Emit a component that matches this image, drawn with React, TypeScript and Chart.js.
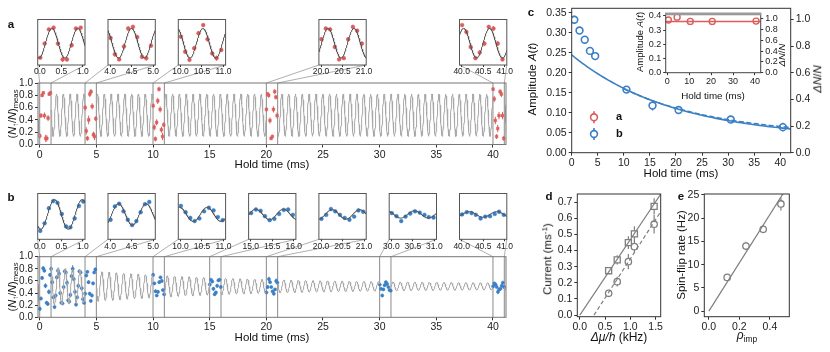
import React, { useEffect, useRef } from "react";
import { Chart, registerables } from "chart.js";

Chart.register(...registerables);
const FONT = '"Liberation Sans", Arial, Helvetica, sans-serif';
Chart.defaults.font.family = FONT;
Chart.defaults.color = "#222";

// ---------------- DATA ----------------
// panel a / b : measurement windows (ms) and which inset slot shows them
const windowStartsA = [0, 4, 10, 20, 40];
const insetSlotsA = [0, 1, 2, 4, 6];
const windowStartsB = [0, 4, 10, 15, 20, 30, 40];
const insetSlotsB = [0, 1, 2, 3, 4, 5, 6];

// panel a points (time offset inside window, value)
const offsetsA = [0.01, 0.11, 0.21, 0.32, 0.42, 0.53, 0.63, 0.74, 0.84, 0.95];
const valuesA0 = [0.14, 0.47, 0.8, 0.84, 0.47, 0.1, 0.1, 0.43, 0.82, 0.84];
const valuesA4 = [0.6, 0.22, 0.1, 0.4, 0.82, 0.86, 0.62, 0.16, 0.13, 0.42];
const valuesA10 = [0.63, 0.28, 0.09, 0.36, 0.71, 0.9, 0.57, 0.24, 0.13, 0.32];
const valuesA20 = [0.57, 0.82, 0.8, 0.39, 0.1, 0.13, 0.57, 0.86, 0.77, 0.47];
const valuesA40 = [0.9, 0.74, 0.39, 0.13, 0.26, 0.47, 0.86, 0.82, 0.47, 0.1];
const errorsA0 = [0.04, 0.04, 0.03, 0.03, 0.05, 0.06, 0.05, 0.05, 0.03, 0.03];
const errorsA4 = [0.05, 0.06, 0.04, 0.07, 0.05, 0.04, 0.05, 0.05, 0.06, 0.04];
const errorsA10 = [0.04, 0.05, 0.04, 0.05, 0.05, 0.04, 0.05, 0.05, 0.06, 0.04];
const errorsA20 = [0.04, 0.03, 0.04, 0.05, 0.03, 0.03, 0.05, 0.04, 0.04, 0.05];
const errorsA40 = [0.03, 0.05, 0.06, 0.04, 0.06, 0.06, 0.04, 0.05, 0.06, 0.04];

// panel b points: continuous 0-5 ms, then windows
const timesBEarly = [0.01, 0.11, 0.21, 0.31, 0.41, 0.51, 0.61, 0.71, 0.81, 0.91, 1.01, 1.11, 1.21, 1.31, 1.41, 1.51, 1.61, 1.71, 1.81, 1.91, 2.01, 2.11, 2.21, 2.31, 2.41, 2.51, 2.61, 2.71, 2.81, 2.91, 3.01, 3.11, 3.21, 3.31, 3.41, 3.51, 3.61, 3.71, 3.81, 3.91, 4.01, 4.11, 4.21, 4.31, 4.41, 4.51, 4.61, 4.71, 4.81, 4.91];
const valuesBEarly = [0.14, 0.31, 0.65, 0.81, 0.77, 0.52, 0.24, 0.22, 0.42, 0.7, 0.8, 0.58, 0.33, 0.17, 0.36, 0.66, 0.77, 0.72, 0.4, 0.24, 0.23, 0.5, 0.76, 0.74, 0.57, 0.28, 0.26, 0.37, 0.68, 0.8, 0.63, 0.42, 0.21, 0.33, 0.52, 0.76, 0.74, 0.48, 0.3, 0.24, 0.39, 0.69, 0.75, 0.58, 0.39, 0.27, 0.36, 0.56, 0.74, 0.79];
const errorsBEarly = [0.04, 0.03, 0.03, 0.03, 0.03, 0.04, 0.03, 0.03, 0.04, 0.03, 0.03, 0.04, 0.03, 0.03, 0.04, 0.03, 0.03, 0.05, 0.03, 0.03, 0.03, 0.04, 0.03, 0.03, 0.05, 0.03, 0.03, 0.04, 0.03, 0.06, 0.03, 0.04, 0.03, 0.03, 0.04, 0.03, 0.03, 0.04, 0.03, 0.03, 0.03, 0.03, 0.02, 0.03, 0.03, 0.02, 0.03, 0.03, 0.02, 0.03];
const offsetsB = [0.01, 0.12, 0.23, 0.33, 0.44, 0.55, 0.66, 0.77, 0.87, 0.98];
const valuesB10 = [0.7, 0.56, 0.43, 0.36, 0.42, 0.58, 0.66, 0.6, 0.45, 0.38];
const valuesB15 = [0.54, 0.62, 0.59, 0.47, 0.38, 0.41, 0.52, 0.61, 0.62, 0.5];
const valuesB20 = [0.41, 0.5, 0.63, 0.58, 0.5, 0.43, 0.39, 0.46, 0.6, 0.57];
const valuesB30 = [0.54, 0.47, 0.36, 0.46, 0.53, 0.58, 0.55, 0.5, 0.45, 0.44];
const valuesB40 = [0.51, 0.56, 0.54, 0.5, 0.42, 0.46, 0.47, 0.52, 0.57, 0.5];
const errorsB10 = [0.03, 0.02, 0.03, 0.02, 0.03, 0.03, 0.02, 0.03, 0.02, 0.03];
const errorsB15 = [0.03, 0.02, 0.02, 0.03, 0.03, 0.02, 0.03, 0.02, 0.02, 0.03];
const errorsB20 = [0.02, 0.03, 0.04, 0.02, 0.02, 0.02, 0.03, 0.02, 0.04, 0.03];
const errorsB30 = [0.02, 0.02, 0.03, 0.02, 0.02, 0.02, 0.02, 0.02, 0.02, 0.02];
const errorsB40 = [0.02, 0.02, 0.02, 0.02, 0.04, 0.02, 0.02, 0.02, 0.03, 0.02];

// fitted oscillation parameters
const fitA = { offset: 0.477, amp: 0.345, period: 0.6025, peakTime: 0.28 };
const fitB = { offset: 0.51, ampDecay: 0.3, ampFloor: 0.04, tau: 14, period: 0.6425, peakTime: 0.34 };

// panel c
const cTimesB = [0.5, 1.5, 2.5, 3.5, 4.5, 10.5, 15.5, 20.5, 30.5, 40.5];
const cAmpB = [0.333, 0.306, 0.283, 0.255, 0.242, 0.158, 0.118, 0.107, 0.083, 0.064];
const cErrB = [0.01, 0.008, 0.008, 0.01, 0.008, 0.006, 0.012, 0.01, 0.007, 0.011];
const cTimesA = [0.5, 4.5, 10.5, 20.5, 40.5];
const cAmpA = [0.372, 0.392, 0.362, 0.362, 0.364];
const cErrA = [0.008, 0.01, 0.006, 0.006, 0.006];
const cFitSolid = { a: 0.21, tau: 19.6, c: 0.035 };
const cFitDashed = { a: 0.2, tau: 19.5, c: 0.04, from: 10 };
const cFitInsetA = 0.362;

// panel d
const dX = [0.57, 0.74, 0.96, 1.08, 1.47];
const dSquares = [0.275, 0.342, 0.449, 0.503, 0.673];
const dSquaresErr = [0.02, 0.028, 0.04, 0.047, 0.05];
const dCircles = [0.135, 0.207, 0.331, 0.424, 0.563];
const dCirclesErr = [0.02, 0.03, 0.047, 0.04, 0.057];
const dFitSquares = { slope: 0.468, x0: 0 };
const dFitCircles = { slope: 0.485, x0: 0.28 };

// panel e
const eX = [0.12, 0.243, 0.356, 0.472];
const eY = [7.26, 14.0, 17.6, 23.06];
const eErr = [0.6, 0.9, 0.8, 1.4];
const eFit = { slope: 52 };

// tick values
const mainXTicks = [0, 5, 10, 15, 20, 25, 30, 35, 40];
const mainYTicks = [0, 0.2, 0.4, 0.6, 0.8, 1.0];
const cXTicks = [0, 5, 10, 15, 20, 25, 30, 35, 40];
const cYTicks = [0, 0.05, 0.1, 0.15, 0.2, 0.25, 0.3, 0.35];
const cY2Ticks = [0, 0.2, 0.4, 0.6, 0.8, 1.0];
const ciXTicks = [0, 10, 20, 30, 40];
const ciYTicks = [0, 0.1, 0.2, 0.3, 0.4];
const dXTicks = [0, 0.5, 1.0, 1.5];
const dYTicks = [0, 0.1, 0.2, 0.3, 0.4, 0.5, 0.6, 0.7];
const eXTicks = [0, 0.2, 0.4];
const eYTicks = [0, 5, 10, 15, 20, 25];

// ---------------- LAYOUT ----------------
type Rect = { l: number; t: number; r: number; b: number };
const MAIN_A_CANVAS: Rect = { l: 0, t: 60, r: 520, b: 180 };
const MAIN_A_AREA: Rect = { l: 38, t: 83, r: 506, b: 144.5 };
const MAIN_B_CANVAS: Rect = { l: 0, t: 235, r: 520, b: 345 };
const MAIN_B_AREA: Rect = { l: 38, t: 256.7, r: 506, b: 317.3 };
const INSET_L0 = 37.7, INSET_STEP = 70.3, INSET_W = 47.3;
const INSET_A_TB = [19.3, 65];
const INSET_B_TB = [193.3, 239.3];
const C_CANVAS: Rect = { l: 525, t: 0, r: 830, b: 182 };
const C_AREA: Rect = { l: 571.7, t: 8.3, r: 790.7, b: 152.7 };
const CI_CANVAS: Rect = { l: 633, t: 5, r: 822, b: 100 };
const CI_AREA: Rect = { l: 665.7, t: 13.3, r: 760.7, b: 72.7 };
const D_CANVAS: Rect = { l: 540, t: 185, r: 670, b: 352 };
const D_AREA: Rect = { l: 577.3, t: 194, r: 660.7, b: 316.7 };
const E_CANVAS: Rect = { l: 675, t: 185, r: 830, b: 352 };
const E_AREA: Rect = { l: 704.3, t: 194, r: 789.3, b: 316.7 };

const RED = "#dc5d5a";
const BLUE = "#3b7fc4";
const GREY = "#7f7f7f";

// ---------------- HELPERS ----------------
function oscA(t: number) {
  return fitA.offset + fitA.amp * Math.cos((2 * Math.PI * (t - fitA.peakTime)) / fitA.period);
}
function ampB(t: number) {
  return fitB.ampDecay * Math.exp(-t / fitB.tau) + fitB.ampFloor;
}
function oscB(t: number, amp: number) {
  return fitB.offset + amp * Math.cos((2 * Math.PI * (t - fitB.peakTime)) / fitB.period);
}

const errorBars = {
  id: "errorBars",
  beforeDatasetsDraw(chart: any) {
    const ctx = chart.ctx;
    const a = chart.chartArea;
    chart.data.datasets.forEach((ds: any, i: number) => {
      if (!ds.errors) return;
      const meta = chart.getDatasetMeta(i);
      const ys = chart.scales[meta.yAxisID];
      ctx.save();
      ctx.beginPath();
      ctx.rect(a.left, a.top, a.right - a.left, a.bottom - a.top);
      ctx.clip();
      ctx.strokeStyle = ds.errorColor || ds.borderColor;
      ctx.lineWidth = ds.errorWidth || 1;
      meta.data.forEach((el: any, j: number) => {
        const d = ds.data[j];
        const e = ds.errors[j];
        if (!d || !e) return;
        ctx.beginPath();
        ctx.moveTo(el.x, ys.getPixelForValue(d.y - e));
        ctx.lineTo(el.x, ys.getPixelForValue(d.y + e));
        ctx.stroke();
      });
      ctx.restore();
    });
  },
};
Chart.register(errorBars);

const framePlugin = (color: string, width: number, band?: { color: string; h: number }) => ({
  id: "frame",
  afterDraw(chart: any) {
    const a = chart.chartArea;
    const ctx = chart.ctx;
    ctx.save();
    ctx.strokeStyle = color;
    ctx.lineWidth = width;
    ctx.strokeRect(a.left, a.top, a.right - a.left, a.bottom - a.top);
    if (band) {
      ctx.fillStyle = band.color;
      ctx.fillRect(a.left - width / 2, a.top - width / 2, a.right - a.left + width, band.h);
    }
    ctx.restore();
  },
});

const zoomLinks = (starts: number[], slots: number[], canvas: Rect, insetBottom: number) => ({
  id: "zoomLinks",
  beforeDatasetsDraw(chart: any) {
    const ctx = chart.ctx;
    const a = chart.chartArea;
    const xs = chart.scales.x;
    ctx.save();
    starts.forEach((t0, i) => {
      const L = INSET_L0 + slots[i] * INSET_STEP - canvas.l;
      const R = L + INSET_W;
      const B = insetBottom - canvas.t;
      const x0 = xs.getPixelForValue(t0);
      const x1 = xs.getPixelForValue(t0 + 1);
      ctx.strokeStyle = "#8a8a8a";
      ctx.lineWidth = 1;
      [x0, x1].forEach((x) => {
        ctx.beginPath();
        ctx.moveTo(x, a.top);
        ctx.lineTo(x, a.bottom);
        ctx.stroke();
      });
      ctx.strokeStyle = "#9a9a9a";
      ctx.lineWidth = 0.8;
      ctx.beginPath();
      ctx.moveTo(L, B);
      ctx.lineTo(x0, a.top);
      ctx.moveTo(R, B);
      ctx.lineTo(x1, a.top);
      ctx.stroke();
    });
    ctx.restore();
  },
});

function xAxis(o: any) {
  return {
    type: "linear",
    position: "bottom",
    bounds: "data",
    min: o.min,
    max: o.max,
    afterBuildTicks: (s: any) => {
      s.ticks = o.ticks.map((v: number) => ({ value: v }));
    },
    afterFit: (s: any) => {
      s.height = o.height;
    },
    ticks: {
      font: { size: o.size },
      color: "#222",
      padding: o.pad ?? 1,
      maxRotation: 0,
      minRotation: 0,
      autoSkip: false,
      callback: (v: number) => o.fmt(v),
    },
    grid: { drawOnChartArea: false, drawTicks: true, tickLength: o.tickLen ?? 3, color: "#333", lineWidth: 1 },
    border: { display: false },
  };
}
function yAxis(o: any) {
  return {
    type: "linear",
    position: o.position || "left",
    bounds: "data",
    min: o.min,
    max: o.max,
    afterBuildTicks: (s: any) => {
      s.ticks = o.ticks.map((v: number) => ({ value: v }));
    },
    afterFit: (s: any) => {
      s.width = o.width;
    },
    ticks: {
      font: { size: o.size },
      color: "#222",
      padding: o.pad ?? 2,
      autoSkip: false,
      callback: (v: number) => o.fmt(v),
    },
    grid: { drawOnChartArea: false, drawTicks: true, tickLength: o.tickLen ?? 3, color: "#333", lineWidth: 1 },
    border: { display: false },
  };
}
function baseOptions(canvas: Rect, area: Rect, scales: any, leftPad: number, rightPad: number) {
  return {
    responsive: false,
    animation: false,
    devicePixelRatio: 1,
    events: [],
    layout: { padding: { left: leftPad, top: area.t - canvas.t, right: rightPad, bottom: 0 } },
    plugins: { legend: { display: false }, tooltip: { enabled: false } },
    scales,
  };
}
const f1 = (v: number) => v.toFixed(1);
const f2 = (v: number) => v.toFixed(2);
const f0 = (v: number) => String(Math.round(v));

function windowPointsA(t0: number) {
  const map: any = { 0: [valuesA0, errorsA0], 4: [valuesA4, errorsA4], 10: [valuesA10, errorsA10], 20: [valuesA20, errorsA20], 40: [valuesA40, errorsA40] };
  const [vals, errs] = map[t0];
  return { data: offsetsA.map((o, j) => ({ x: t0 + o, y: vals[j] })), errors: errs };
}
function windowPointsB(t0: number) {
  if (t0 < 5) {
    const idx = timesBEarly.map((t, j) => j).filter((j) => timesBEarly[j] >= t0 - 0.05 && timesBEarly[j] <= t0 + 1.05);
    return { data: idx.map((j) => ({ x: timesBEarly[j], y: valuesBEarly[j] })), errors: idx.map((j) => errorsBEarly[j]) };
  }
  const map: any = { 10: [valuesB10, errorsB10], 15: [valuesB15, errorsB15], 20: [valuesB20, errorsB20], 30: [valuesB30, errorsB30], 40: [valuesB40, errorsB40] };
  const [vals, errs] = map[t0];
  return { data: offsetsB.map((o, j) => ({ x: t0 + o, y: vals[j] })), errors: errs };
}

function pointDataset(pts: any, color: string, style: string, radius: number) {
  return {
    data: pts.data,
    errors: pts.errors,
    errorColor: color,
    errorWidth: 1,
    showLine: false,
    pointStyle: style,
    pointRadius: radius,
    pointBackgroundColor: color,
    pointBorderColor: color,
    pointBorderWidth: 0.5,
    borderColor: color,
  };
}

function mainConfig(panel: string) {
  const isA = panel === "a";
  const canvas = isA ? MAIN_A_CANVAS : MAIN_B_CANVAS;
  const area = isA ? MAIN_A_AREA : MAIN_B_AREA;
  const starts = isA ? windowStartsA : windowStartsB;
  const slots = isA ? insetSlotsA : insetSlotsB;
  const xmin = -0.15, xmax = 41.15;
  const curve: any[] = [];
  const n = Math.round((xmax - xmin) / 0.02);
  for (let i = 0; i <= n; i++) {
    const t = xmin + i * 0.02;
    const inWin = starts.some((t0) => t > t0 && t < t0 + 1);
    curve.push({ x: t, y: inWin ? null : isA ? oscA(t) : oscB(t, ampB(t)) });
  }
  const datasets: any[] = [
    { data: curve, showLine: true, borderColor: "#a8a8a8", borderWidth: 1, pointRadius: 0, spanGaps: false },
  ];
  if (isA) {
    starts.forEach((t0) => datasets.push(pointDataset(windowPointsA(t0), RED, "rect", 1.9)));
  } else {
    datasets.push(pointDataset({ data: timesBEarly.map((t, j) => ({ x: t, y: valuesBEarly[j] })), errors: errorsBEarly }, BLUE, "circle", 1.6));
    starts.filter((t0) => t0 >= 10).forEach((t0) => datasets.push(pointDataset(windowPointsB(t0), BLUE, "circle", 1.6)));
  }
  return {
    type: "scatter",
    data: { datasets },
    options: baseOptions(canvas, area, {
      x: xAxis({ min: xmin, max: xmax, ticks: mainXTicks, fmt: f0, size: 10.5, height: canvas.b - area.b, tickLen: 3, pad: 1 }),
      y: yAxis({ min: 0, max: 1, ticks: mainYTicks, fmt: f1, size: 10, width: area.l - canvas.l, tickLen: 3, pad: 2 }),
    }, 0, canvas.r - area.r),
    plugins: [zoomLinks(starts, slots, canvas, isA ? INSET_A_TB[1] : INSET_B_TB[1]), framePlugin("#777", 1)],
  };
}

function insetRects(panel: string, slot: number) {
  const tb = panel === "a" ? INSET_A_TB : INSET_B_TB;
  const l = INSET_L0 + slot * INSET_STEP;
  const area: Rect = { l, r: l + INSET_W, t: tb[0], b: tb[1] };
  const canvas: Rect = { l: Math.floor(area.l - 10), r: Math.ceil(area.r + 10), t: Math.floor(area.t - 4), b: Math.ceil(area.b + 15) };
  return { area, canvas };
}

function insetConfig(panel: string, t0: number, slot: number) {
  const isA = panel === "a";
  const { area, canvas } = insetRects(panel, slot);
  const xmin = t0 - 0.05, xmax = t0 + 1.05;
  const amp = isA ? fitA.amp : cAmpB[cTimesB.indexOf(t0 + 0.5)];
  const curve: any[] = [];
  for (let i = 0; i <= 220; i++) {
    const t = xmin + (i * (xmax - xmin)) / 220;
    curve.push({ x: t, y: isA ? oscA(t) : oscB(t, amp) });
  }
  const pts = isA ? windowPointsA(t0) : windowPointsB(t0);
  const datasets: any[] = [
    { data: curve, showLine: true, borderColor: "#555", borderWidth: 1, pointRadius: 0 },
    pointDataset(pts, isA ? RED : BLUE, "circle", 1.9),
  ];
  return {
    type: "scatter",
    data: { datasets },
    options: baseOptions(canvas, area, {
      x: xAxis({ min: xmin, max: xmax, ticks: [t0, t0 + 0.5, t0 + 1], fmt: f1, size: 8.5, height: canvas.b - area.b, tickLen: 2, pad: 0 }),
      y: { type: "linear", display: false, min: isA ? -0.03 : -0.05, max: isA ? 1.03 : 0.98 },
    }, area.l - canvas.l, canvas.r - area.r),
    plugins: [framePlugin("#555", 1)],
  };
}

const cLegend = {
  id: "cLegend",
  afterDraw(chart: any) {
    const ctx = chart.ctx;
    const items = [
      { color: RED, label: "a", y: 117.3 },
      { color: BLUE, label: "b", y: 134 },
    ];
    ctx.save();
    items.forEach((it) => {
      const x = 594 - C_CANVAS.l;
      const y = it.y - C_CANVAS.t;
      ctx.strokeStyle = it.color;
      ctx.lineWidth = 1.6;
      ctx.beginPath();
      ctx.moveTo(x, y - 6);
      ctx.lineTo(x, y + 6);
      ctx.stroke();
      ctx.beginPath();
      ctx.arc(x, y, 3.4, 0, Math.PI * 2);
      ctx.fillStyle = "#fff";
      ctx.fill();
      ctx.stroke();
      ctx.fillStyle = "#111";
      ctx.font = `bold 11px ${FONT}`;
      ctx.textBaseline = "middle";
      ctx.textAlign = "left";
      ctx.fillText(it.label, 616 - C_CANVAS.l, y);
    });
    ctx.restore();
  },
};

function cConfig() {
  const solid: any[] = [];
  const dashed: any[] = [];
  for (let i = 0; i <= 84; i++) {
    const t = i * 0.5;
    solid.push({ x: t, y: cFitSolid.a * Math.exp(-t / cFitSolid.tau) + cFitSolid.c });
    if (t >= cFitDashed.from) dashed.push({ x: t, y: cFitDashed.a * Math.exp(-t / cFitDashed.tau) + cFitDashed.c });
  }
  const datasets: any[] = [
    { data: solid, showLine: true, borderColor: BLUE, borderWidth: 1.6, pointRadius: 0 },
    { data: dashed, showLine: true, borderColor: BLUE, borderWidth: 1.4, borderDash: [5, 2.5], pointRadius: 0 },
    {
      data: cTimesB.map((t, j) => ({ x: t, y: cAmpB[j] })),
      errors: cErrB,
      errorColor: BLUE,
      errorWidth: 1.5,
      showLine: false,
      pointStyle: "circle",
      pointRadius: 3.4,
      pointBorderWidth: 1.6,
      pointBorderColor: BLUE,
      pointBackgroundColor: "#fff",
      borderColor: BLUE,
    },
  ];
  return {
    type: "scatter",
    data: { datasets },
    options: baseOptions(C_CANVAS, C_AREA, {
      x: xAxis({ min: 0, max: 42, ticks: cXTicks, fmt: f0, size: 10.5, height: C_CANVAS.b - C_AREA.b, tickLen: 3, pad: 1 }),
      y: yAxis({ min: 0, max: 0.3617, ticks: cYTicks, fmt: f2, size: 10.5, width: C_AREA.l - C_CANVAS.l }),
      y2: yAxis({ min: 0, max: 1.083, ticks: cY2Ticks, fmt: f1, size: 10.5, width: C_CANVAS.r - C_AREA.r, position: "right" }),
    }, 0, 0),
    plugins: [framePlugin("#333", 1), cLegend],
  };
}

function ciConfig() {
  const datasets: any[] = [
    { data: [{ x: -0.7, y: cFitInsetA }, { x: 42.6, y: cFitInsetA }], showLine: true, borderColor: RED, borderWidth: 1.5, pointRadius: 0 },
    {
      data: cTimesA.map((t, j) => ({ x: t, y: cAmpA[j] })),
      errors: cErrA,
      errorColor: RED,
      errorWidth: 1.3,
      showLine: false,
      pointStyle: "circle",
      pointRadius: 3,
      pointBorderWidth: 1.4,
      pointBorderColor: RED,
      pointBackgroundColor: "#fff",
      borderColor: RED,
    },
  ];
  return {
    type: "scatter",
    data: { datasets },
    options: baseOptions(CI_CANVAS, CI_AREA, {
      x: xAxis({ min: -0.7, max: 42.6, ticks: ciXTicks, fmt: f0, size: 9, height: CI_CANVAS.b - CI_AREA.b, tickLen: 2.5, pad: 1 }),
      y: yAxis({ min: 0, max: 0.419, ticks: ciYTicks, fmt: f1, size: 9, width: CI_AREA.l - CI_CANVAS.l, tickLen: 2.5 }),
      y2: yAxis({ min: 0, max: 1.106, ticks: cY2Ticks, fmt: f1, size: 9, width: CI_CANVAS.r - CI_AREA.r, position: "right", tickLen: 2.5 }),
    }, 0, 0),
    plugins: [framePlugin("#444", 1, { color: "#999", h: 2.5 })],
  };
}

function openMarkers(xs: number[], ys: number[], errs: number[], style: string, radius: number) {
  return {
    data: xs.map((x, j) => ({ x, y: ys[j] })),
    errors: errs,
    errorColor: GREY,
    errorWidth: 1.2,
    showLine: false,
    pointStyle: style,
    pointRadius: radius,
    pointBorderWidth: 1.3,
    pointBorderColor: GREY,
    pointBackgroundColor: "#fff",
    borderColor: GREY,
  };
}

function dConfig() {
  const xEnd = 1.6;
  const datasets: any[] = [
    { data: [{ x: dFitSquares.x0, y: 0 }, { x: xEnd, y: dFitSquares.slope * (xEnd - dFitSquares.x0) }], showLine: true, borderColor: GREY, borderWidth: 1.2, pointRadius: 0 },
    { data: [{ x: dFitCircles.x0, y: 0 }, { x: xEnd, y: dFitCircles.slope * (xEnd - dFitCircles.x0) }], showLine: true, borderColor: GREY, borderWidth: 1.2, borderDash: [4, 2.5], pointRadius: 0 },
    openMarkers(dX, dSquares, dSquaresErr, "rect", 4.3),
    openMarkers(dX, dCircles, dCirclesErr, "circle", 3.2),
  ];
  return {
    type: "scatter",
    data: { datasets },
    options: baseOptions(D_CANVAS, D_AREA, {
      x: xAxis({ min: -0.05, max: 1.6, ticks: dXTicks, fmt: f1, size: 10.5, height: D_CANVAS.b - D_AREA.b, tickLen: 3, pad: 1 }),
      y: yAxis({ min: -0.01, max: 0.75, ticks: dYTicks, fmt: f1, size: 10.5, width: D_AREA.l - D_CANVAS.l }),
    }, 0, D_CANVAS.r - D_AREA.r),
    plugins: [framePlugin("#333", 1)],
  };
}

function eConfig() {
  const xEnd = 0.53;
  const datasets: any[] = [
    { data: [{ x: 0, y: 0 }, { x: xEnd, y: eFit.slope * xEnd }], showLine: true, borderColor: GREY, borderWidth: 1.2, pointRadius: 0 },
    openMarkers(eX, eY, eErr, "circle", 3.2),
  ];
  return {
    type: "scatter",
    data: { datasets },
    options: baseOptions(E_CANVAS, E_AREA, {
      x: xAxis({ min: -0.03, max: 0.527, ticks: eXTicks, fmt: f1, size: 10.5, height: E_CANVAS.b - E_AREA.b, tickLen: 3, pad: 1 }),
      y: yAxis({ min: -1.2, max: 25.2, ticks: eYTicks, fmt: f0, size: 10.5, width: E_AREA.l - E_CANVAS.l }),
    }, 0, E_CANVAS.r - E_AREA.r),
    plugins: [framePlugin("#333", 1)],
  };
}

// ---------------- COMPONENTS ----------------
function Plot({ rect, make }: { rect: Rect; make: () => any }) {
  const ref = useRef<HTMLCanvasElement | null>(null);
  useEffect(() => {
    if (!ref.current) return;
    const chart = new Chart(ref.current, make());
    return () => chart.destroy();
  }, []);
  const w = rect.r - rect.l;
  const h = rect.b - rect.t;
  return <canvas ref={ref} width={w} height={h} style={{ position: "absolute", left: rect.l, top: rect.t, width: w, height: h }} />;
}

function Txt({ x, y, rot = 0, size = 11.5, bold = false, children }: any) {
  return (
    <div
      style={{
        position: "absolute",
        left: x,
        top: y,
        transform: `translate(-50%, -50%) rotate(${rot}deg)`,
        fontSize: size,
        fontWeight: bold ? "bold" : "normal",
        whiteSpace: "nowrap",
        lineHeight: 1,
        fontFamily: FONT,
        color: "#111",
      }}
    >
      {children}
    </div>
  );
}

const subStyle = { fontSize: "0.7em", verticalAlign: "-0.3em", lineHeight: 0 } as any;
const supStyle = { fontSize: "0.7em", verticalAlign: "0.45em", lineHeight: 0 } as any;

function NTitle() {
  return (
    <span>
      (<i>N</i>
      <span style={subStyle}>↑</span>/<i>N</i>)<span style={subStyle}>meas</span>
    </span>
  );
}

export default function App() {
  return (
    <div style={{ position: "absolute", left: 0, top: 0, width: 830, height: 352, background: "#fff", overflow: "hidden" }}>
      <Plot rect={MAIN_A_CANVAS} make={() => mainConfig("a")} />
      <Plot rect={MAIN_B_CANVAS} make={() => mainConfig("b")} />
      {windowStartsA.map((t0, i) => (
        <Plot key={"ia" + t0} rect={insetRects("a", insetSlotsA[i]).canvas} make={() => insetConfig("a", t0, insetSlotsA[i])} />
      ))}
      {windowStartsB.map((t0, i) => (
        <Plot key={"ib" + t0} rect={insetRects("b", insetSlotsB[i]).canvas} make={() => insetConfig("b", t0, insetSlotsB[i])} />
      ))}
      <Plot rect={C_CANVAS} make={cConfig} />
      <Plot rect={CI_CANVAS} make={ciConfig} />
      <Plot rect={D_CANVAS} make={dConfig} />
      <Plot rect={E_CANVAS} make={eConfig} />

      <Txt x={11} y={25} bold size={11.5}>a</Txt>
      <Txt x={11} y={198} bold size={11.5}>b</Txt>
      <Txt x={531} y={13} bold size={11.5}>c</Txt>
      <Txt x={549} y={197} bold size={11.5}>d</Txt>
      <Txt x={681} y={197} bold size={11.5}>e</Txt>

      <Txt x={12} y={114} rot={-90} size={11}><NTitle /></Txt>
      <Txt x={272} y={164.5}>Hold time (ms)</Txt>
      <Txt x={12} y={287} rot={-90} size={11}><NTitle /></Txt>
      <Txt x={272} y={338}>Hold time (ms)</Txt>

      <Txt x={533} y={79} rot={-90}>
        Amplitude <i>A</i>(<i>t</i>)
      </Txt>
      <Txt x={818} y={79} rot={-90}>
        <i>ΔN</i>/<i>N</i>
      </Txt>
      <Txt x={681} y={173.5}>Hold time (ms)</Txt>
      <Txt x={640} y={42} rot={-90} size={9.5}>
        Amplitude <i>A</i>(<i>t</i>)
      </Txt>
      <Txt x={782} y={55} rot={-90} size={9.5}>
        <i>ΔN</i>/<i>N</i>
      </Txt>
      <Txt x={713} y={96} size={9.8}>Hold time (ms)</Txt>

      <Txt x={548} y={259} rot={-90} size={11.5}>
        Current (ms<span style={supStyle}>-1</span>)
      </Txt>
      <Txt x={619} y={337} size={12}>
        <i>Δμ/h</i> (kHz)
      </Txt>
      <Txt x={682} y={255} rot={-90} size={11.5}>Spin-flip rate (Hz)</Txt>
      <Txt x={747} y={335} size={12}>
        <i>ρ</i>
        <span style={subStyle}>imp</span>
      </Txt>
    </div>
  );
}
